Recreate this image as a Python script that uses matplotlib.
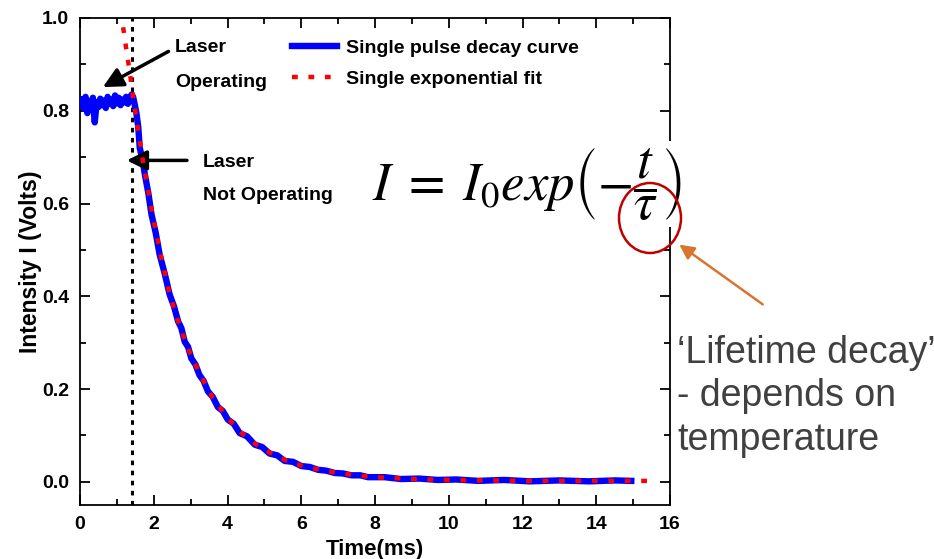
import matplotlib
matplotlib.use("Agg")
import matplotlib.pyplot as plt
import matplotlib.ticker as ticker
from matplotlib.patches import Ellipse

plt.rcParams["font.family"] = ["Liberation Sans", "DejaVu Sans"]
plt.rcParams["mathtext.fontset"] = "stix"

t_meas = [0.00, 0.05, 0.10, 0.15, 0.20, 0.25, 0.30, 0.35, 0.40, 0.45,
          0.50, 0.55, 0.60, 0.65, 0.70, 0.75, 0.80, 0.85, 0.90, 0.95,
          1.00, 1.05, 1.10, 1.15, 1.20, 1.25, 1.30, 1.35, 1.40, 1.44,
          1.48, 1.53, 1.58, 1.62, 1.70, 1.76, 1.85, 1.94, 2.05, 2.16,
          2.30, 2.43, 2.55, 2.66, 2.75, 2.84, 2.93, 3.02, 3.13, 3.24,
          3.35, 3.47, 3.60, 3.74, 3.87, 4.01, 4.17, 4.33, 4.53, 4.74,
          4.94, 5.14, 5.35, 5.55, 5.78, 6.00, 6.23, 6.45, 6.68, 6.91,
          7.13, 7.36, 7.60, 7.81, 8.26, 8.70, 9.20, 9.70, 10.2, 10.8,
          11.5, 12.2, 13.0, 13.8, 14.5, 14.95]
i_meas = [0.815, 0.825, 0.805, 0.830, 0.795, 0.820, 0.812, 0.828, 0.775, 0.818,
          0.808, 0.826, 0.812, 0.822, 0.806, 0.830, 0.815, 0.824, 0.810, 0.833,
          0.816, 0.828, 0.812, 0.824, 0.818, 0.830, 0.815, 0.826, 0.835, 0.830,
          0.815, 0.795, 0.765, 0.720, 0.693, 0.662, 0.624, 0.576, 0.538, 0.490,
          0.448, 0.404, 0.378, 0.346, 0.331, 0.302, 0.291, 0.266, 0.253, 0.230,
          0.218, 0.195, 0.183, 0.161, 0.153, 0.134, 0.125, 0.105, 0.098, 0.080,
          0.075, 0.061, 0.057, 0.045, 0.043, 0.034, 0.032, 0.026, 0.024, 0.019,
          0.018, 0.014, 0.014, 0.010, 0.010, 0.006, 0.007, 0.004, 0.005, 0.002,
          0.004, 0.001, 0.003, 0.001, 0.003, 0.002]

# single exponential fit
t_fit = [1.17, 1.26, 1.35, 1.44, 1.55, 1.70, 1.85, 2.00, 2.20, 2.40,
         2.60, 2.80, 3.00, 3.30, 3.60, 4.00, 4.40, 4.80, 5.20, 5.60,
         6.00, 6.50, 7.00, 7.50, 8.00, 9.00, 10.0, 11.0, 12.0, 13.0,
         14.0, 15.0, 15.4]
i_fit = [0.980, 0.930, 0.883, 0.830, 0.772, 0.695, 0.627, 0.562, 0.485, 0.415,
         0.360, 0.315, 0.274, 0.225, 0.181, 0.138, 0.104, 0.079, 0.061, 0.046,
         0.035, 0.026, 0.019, 0.014, 0.010, 0.006, 0.004, 0.003, 0.002, 0.002,
         0.002, 0.002, 0.002]

t_switch = 1.41

fig = plt.figure(figsize=(9.34, 5.59), dpi=100)
ax = fig.add_axes([80/934, 1 - 505/559, 590/934, 487/559])

ax.plot(t_meas, i_meas, color="#0000ff", lw=4.6, solid_joinstyle="round",
        label="Single pulse decay curve", zorder=3)
ax.plot(t_fit, i_fit, color="#ff0000", lw=3.2, linestyle=(0, (1.3, 2.4)),
        label="Single exponential fit", zorder=4)
ax.axvline(t_switch, color="black", lw=2.2, linestyle=(0, (1.5, 1.8)), zorder=2)

ax.set_xlim(0, 16)
ax.set_ylim(-0.05, 1.0)
ax.xaxis.set_major_locator(ticker.MultipleLocator(2))
ax.xaxis.set_minor_locator(ticker.MultipleLocator(1))
ax.yaxis.set_major_locator(ticker.MultipleLocator(0.2))
ax.yaxis.set_minor_locator(ticker.MultipleLocator(0.1))
ax.yaxis.set_major_formatter(ticker.FormatStrFormatter("%.1f"))
ax.tick_params(which="both", direction="in", top=True, right=True, width=1.3)
ax.tick_params(which="major", length=7, labelsize=14, pad=8)
ax.tick_params(which="minor", length=4)
for lab in ax.get_xticklabels() + ax.get_yticklabels():
    lab.set_fontweight("bold")
for sp in ax.spines.values():
    sp.set_linewidth(1.3)

ax.set_xlabel("Time(ms)", fontsize=16, fontweight="bold", labelpad=4)
ax.set_ylabel("Intensity I (Volts)", fontsize=16.5, fontweight="bold", labelpad=0)

ax.legend(loc="upper left", bbox_to_anchor=(0.33, 0.993), frameon=False,
          handlelength=2.3, handletextpad=0.45, labelspacing=0.72,
          prop={"weight": "bold", "size": 14})

# annotations
ax.text(2.57, 0.936, "Laser", fontsize=14, fontweight="bold", va="center")
ax.text(2.57, 0.860, "Operating", fontsize=14, fontweight="bold", va="center")
ax.annotate("", xy=(0.62, 0.851), xytext=(2.40, 0.928),
            arrowprops=dict(arrowstyle="-|>", color="black", lw=2.5,
                            mutation_scale=30, shrinkA=0, shrinkB=0))
ax.text(3.33, 0.688, "Laser", fontsize=14, fontweight="bold", va="center")
ax.text(3.33, 0.617, "Not Operating", fontsize=14, fontweight="bold", va="center")
ax.annotate("", xy=(1.27, 0.693), xytext=(2.9, 0.693),
            arrowprops=dict(arrowstyle="-|>", color="black", lw=2.5,
                            mutation_scale=30, shrinkA=0, shrinkB=0))

# equation with white background over the right spine
fig.text(372/934, 1 - 201/559, r"$I\;=\;I_0 exp\left(-\dfrac{t}{\tau}\right)$",
         fontsize=38, ha="left", va="baseline", color="black", zorder=4,
         bbox=dict(facecolor="white", edgecolor="none", pad=3))
fig.add_artist(Ellipse((650/934, 1 - 218/559), 62/934, 70/559,
                       transform=fig.transFigure, fill=False,
                       edgecolor="#c00000", lw=1.8, zorder=6))
ax.annotate("", xy=(677/934, 1 - 243/559), xytext=(765/934, 1 - 306/559),
            xycoords="figure fraction", textcoords="figure fraction",
            arrowprops=dict(arrowstyle="-|>", color="#d9752f", lw=1.8, mutation_scale=22),
            annotation_clip=False)

fig.text(677/934, 1 - 335/559, "\u2018Lifetime decay\u2019\n- depends on\ntemperature",
         fontsize=27, ha="left", va="top", color="#404040", linespacing=1.26)

plt.savefig("out.png", dpi=100)
